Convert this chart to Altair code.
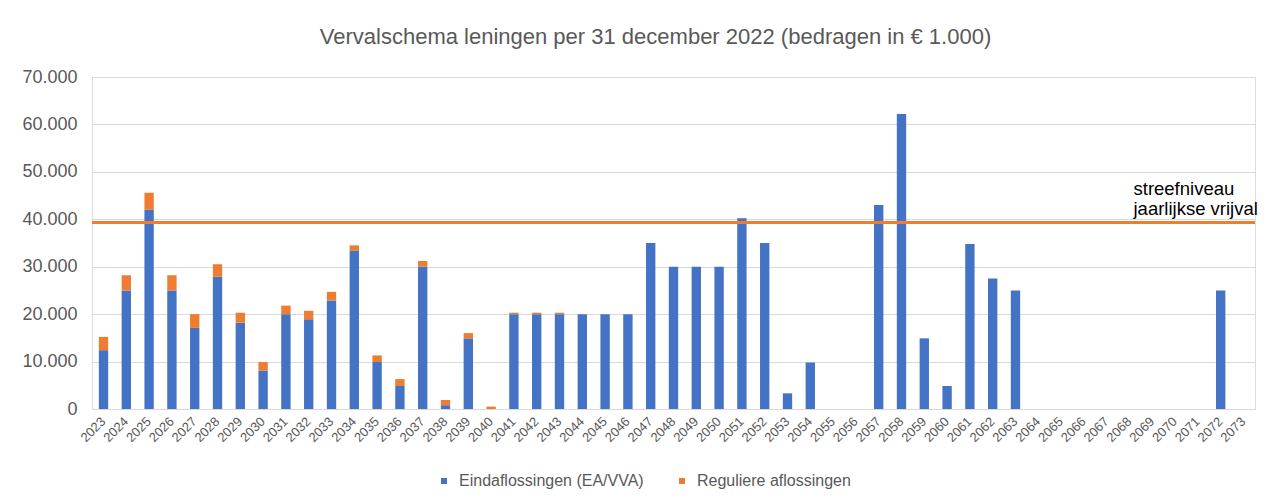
import altair as alt
import pandas as pd

years = [str(y) for y in range(2023, 2074)]
eindaflossingen = [
    12400, 25000, 42000, 25000, 17100, 27900, 18200, 8100, 20000, 18900,
    22900, 33400, 9900, 4850, 30000, 800, 14900, 0, 20000, 20000,
    20000, 20000, 20000, 20000, 35000, 30000, 30000, 30000, 40200, 35000,
    3300, 9800, 0, 0, 43000, 62200, 14900, 4850, 34800, 27500,
    25000, 0, 0, 0, 0, 0, 0, 0, 0, 25000, 0,
]
reguliere = [
    2800, 3200, 3600, 3200, 2900, 2600, 2100, 1800, 1800, 1800,
    1800, 1100, 1400, 1450, 1200, 1100, 1100, 500, 300, 300,
    300, 0, 0, 0, 0, 0, 0, 0, 0, 0,
    0, 0, 0, 0, 0, 0, 0, 0, 0, 0,
    0, 0, 0, 0, 0, 0, 0, 0, 0, 0, 0,
]
series_names = ["Eindaflossingen (EA/VVA)", "Reguliere aflossingen"]
series_colors = ["#4472C4", "#ED7D31"]
target_value = 39300
target_label = ["streefniveau", "jaarlijkse vrijval"]
title_text = "Vervalschema leningen per 31 december 2022 (bedragen in € 1.000)"

rows = []
for i, y in enumerate(years):
    rows.append({"jaar": y, "serie": series_names[0], "bedrag": eindaflossingen[i], "volgorde": 0})
    rows.append({"jaar": y, "serie": series_names[1], "bedrag": reguliere[i], "volgorde": 1})
df = pd.DataFrame(rows)

FONT = "Liberation Sans"
GREY = "#595959"

bars = alt.Chart(df).mark_bar().encode(
    x=alt.X(
        "jaar:N",
        sort=years,
        scale=alt.Scale(paddingInner=0.59, paddingOuter=0.3),
        axis=alt.Axis(
            title=None,
            labelAngle=-45,
            labelAlign="right",
            labelBaseline="middle",
            labelFontSize=13,
            labelColor=GREY,
            labelFont=FONT,
            labelPadding=10,
            ticks=False,
            domain=True,
            domainColor="#d9d9d9",
            labelOverlap=False,
        ),
    ),
    y=alt.Y(
        "bedrag:Q",
        stack="zero",
        scale=alt.Scale(domain=[0, 70000], nice=False),
        axis=alt.Axis(
            title=None,
            values=[0, 10000, 20000, 30000, 40000, 50000, 60000, 70000],
            labelExpr="replace(format(datum.value, ',d'), ',', '.')",
            labelFontSize=18,
            labelColor=GREY,
            labelFont=FONT,
            labelPadding=15,
            ticks=False,
            domain=False,
            gridColor="#d9d9d9",
        ),
    ),
    color=alt.Color(
        "serie:N",
        scale=alt.Scale(domain=series_names, range=series_colors),
        legend=alt.Legend(
            title=None,
            orient="none",
            legendX=344,
            legendY=396,
            direction="horizontal",
            symbolType="square",
            symbolSize=36,
            symbolStrokeWidth=0,
            labelFontSize=16,
            labelColor=GREY,
            labelFont=FONT,
            labelLimit=0,
            columnPadding=30,
            labelOffset=7,
        ),
    ),
    order=alt.Order("volgorde:Q"),
)

target_df = pd.DataFrame({"waarde": [target_value]})
label_df = pd.DataFrame({
    "waarde": [target_value] * len(target_label),
    "jaar": ["2068"] * len(target_label),
    "regel": list(range(len(target_label))),
    "label": target_label,
})

rule = alt.Chart(target_df).mark_rule(color="#ED7D31", strokeWidth=3).encode(
    y=alt.Y("waarde:Q")
)

label_layers = []
for idx, dy in zip(range(len(target_label)), [-28, -8]):
    label_layers.append(
        alt.Chart(label_df)
        .transform_filter(alt.datum.regel == idx)
        .mark_text(
            align="left",
            baseline="alphabetic",
            dx=4,
            dy=dy,
            fontSize=18.5,
            font=FONT,
            color="#000000",
        )
        .encode(
            x=alt.X("jaar:N", sort=years),
            y=alt.Y("waarde:Q"),
            text="label:N",
        )
    )

chart = (
    alt.layer(bars, rule, *label_layers)
    .properties(
        width=1163,
        height=332,
        title=alt.TitleParams(
            title_text,
            fontSize=22,
            fontWeight="normal",
            font=FONT,
            color=GREY,
            offset=19,
            dx=-18,
        ),
        autosize=alt.AutoSizeParams(type="none"),
        padding={"left": 84, "top": 69, "right": 11, "bottom": 85},
    )
    .configure_view(stroke=None)
    .configure(background="white")
)

chart.save("out.html", embed_options={"renderer": "svg", "actions": False})
